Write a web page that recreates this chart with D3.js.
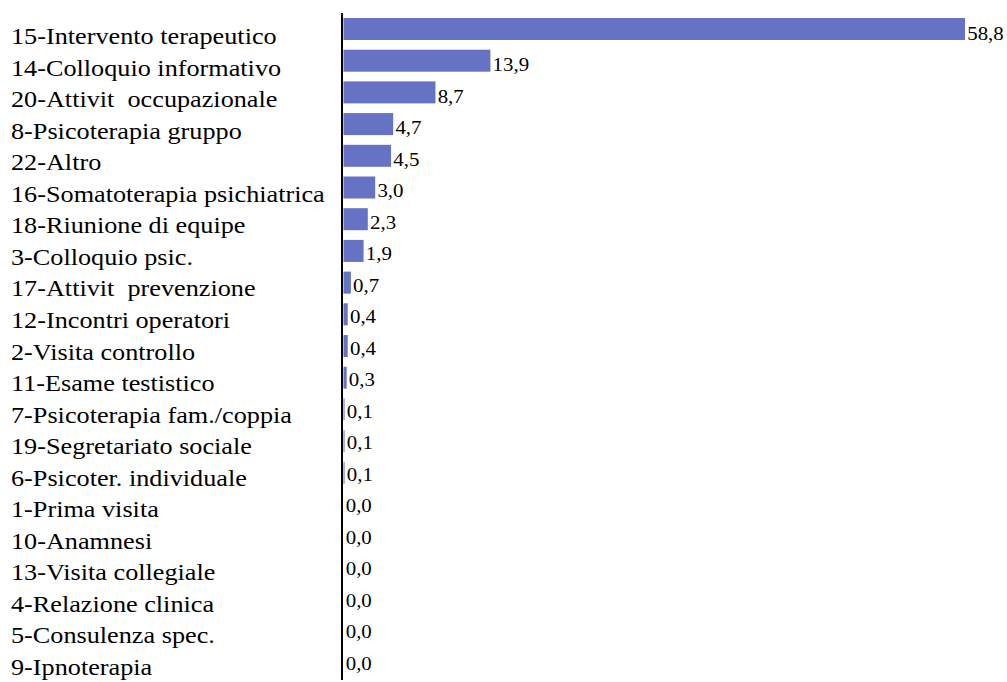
<!DOCTYPE html>
<html>
<head>
<meta charset="utf-8">
<script src="https://cdn.jsdelivr.net/npm/d3@7"></script>
<style>
  html, body { margin: 0; padding: 0; background: #fff; }
  svg { display: block; }
  text { font-family: "Liberation Serif", "Times New Roman", serif; fill: #000; white-space: pre; }
</style>
</head>
<body>
<svg id="chart" width="1007" height="682"></svg>
<script>
// Activity categories, sorted by share (%)
const categories = [
  "15-Intervento terapeutico",
  "14-Colloquio informativo",
  "20-Attivit  occupazionale",
  "8-Psicoterapia gruppo",
  "22-Altro",
  "16-Somatoterapia psichiatrica",
  "18-Riunione di equipe",
  "3-Colloquio psic.",
  "17-Attivit  prevenzione",
  "12-Incontri operatori",
  "2-Visita controllo",
  "11-Esame testistico",
  "7-Psicoterapia fam./coppia",
  "19-Segretariato sociale",
  "6-Psicoter. individuale",
  "1-Prima visita",
  "10-Anamnesi",
  "13-Visita collegiale",
  "4-Relazione clinica",
  "5-Consulenza spec.",
  "9-Ipnoterapia"
];
const values = [58.8, 13.9, 8.7, 4.7, 4.5, 3.0, 2.3, 1.9, 0.7, 0.4, 0.4, 0.3, 0.1, 0.1, 0.1, 0.0, 0.0, 0.0, 0.0, 0.0, 0.0];

const data = categories.map((c, i) => ({ cat: c, val: values[i] }));

const svg = d3.select("#chart");
const plotLeft = 343.5, plotTop = 13, plotBottom = 680;

const x = d3.scaleLinear().domain([0, 58.8]).range([plotLeft, 965]);
const y = d3.scaleBand().domain(categories).range([13.15, 678.85]).paddingInner(0.306).paddingOuter(0.153);
// baselines for the category names and the value labels
const yName = d3.scalePoint().domain(categories).range([44, 675]);
const yVal = d3.scalePoint().domain(categories).range([39.5, 670]);

const fmt = v => v.toFixed(1).replace(".", ",");
const nameStretch = 1.14, valStretch = 1.1;

// bars
svg.append("g").selectAll("rect").data(data).join("rect")
  .attr("x", x(0))
  .attr("y", d => y(d.cat))
  .attr("width", d => x(d.val) - x(0))
  .attr("height", y.bandwidth())
  .attr("fill", "#6672c4");

// value labels (slightly wide type)
svg.append("g").selectAll("text").data(data).join("text")
  .attr("transform", d => `translate(${x(d.val) + 2.2},${yVal(d.cat)}) scale(${valStretch},1)`)
  .attr("font-size", 19)
  .text(d => fmt(d.val));

// category labels
svg.append("g").selectAll("text").data(data).join("text")
  .attr("transform", d => `translate(11,${yName(d.cat)}) scale(${nameStretch},1)`)
  .attr("font-size", 23)
  .text(d => d.cat);

// vertical axis line
svg.append("line")
  .attr("x1", 342).attr("x2", 342)
  .attr("y1", plotTop).attr("y2", plotBottom)
  .attr("stroke", "#000").attr("stroke-width", 2);
</script>
</body>
</html>
